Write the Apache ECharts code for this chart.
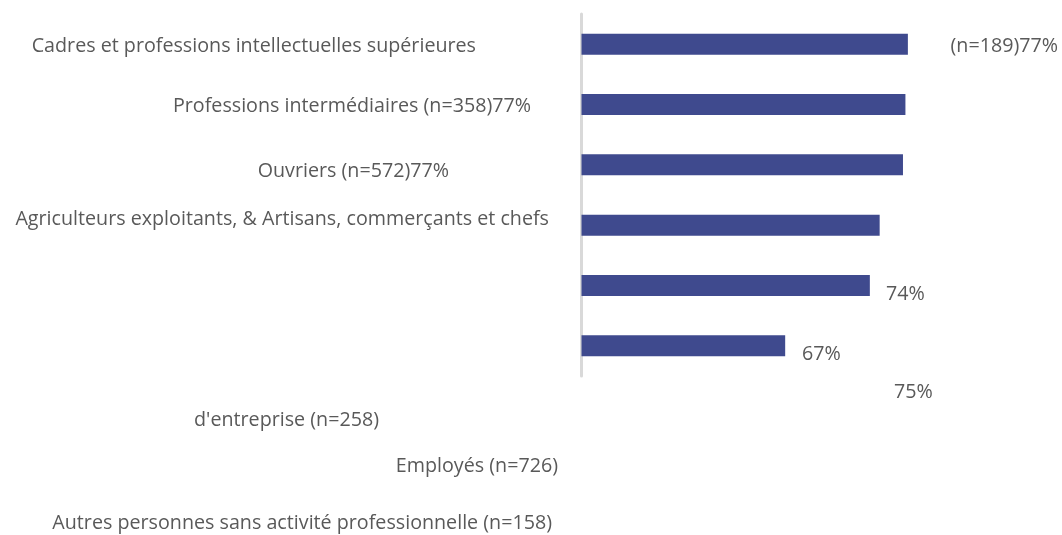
<!DOCTYPE html>
<html>
<head>
<meta charset="utf-8">
<script src="https://cdn.jsdelivr.net/npm/echarts@6/dist/echarts.min.js"></script>
<style>
html,body{margin:0;padding:0;background:#fff;}
#chart{width:1062px;height:535px;}
</style>
</head>
<body>
<div id="chart"></div>
<script>
// Data
const categories = [
  "Cadres et professions intellectuelles supérieures",
  "Professions intermédiaires",
  "Ouvriers",
  "Agriculteurs exploitants, & Artisans, commerçants et chefs d'entreprise",
  "Employés",
  "Autres personnes sans activité professionnelle"
];
const counts = [189, 358, 572, 258, 726, 158];
const values = [77.0, 76.8, 76.6, 74.7, 73.9, 67.0];
const valueLabels = ["77%", "77%", "77%", "75%", "74%", "67%"];

const FONT = '"Open Sans", sans-serif';
const FS = 19.7;
const TXT = '#595959';

const chart = echarts.init(document.getElementById('chart'));

function n(i){ return '(n=' + counts[i] + ')'; }
const agriParts = categories[3].split(' chefs ');

// Text pieces as they appear (misplaced labels of the original export)
const texts = [
  {t: categories[0], x: 476, y: 46, a: 'right'},
  {t: n(0) + valueLabels[0], x: 1058, y: 46, a: 'right'},
  {t: categories[1] + ' ' + n(1) + valueLabels[1], x: 531, y: 106, a: 'right'},
  {t: categories[2] + ' ' + n(2) + valueLabels[2], x: 449, y: 171, a: 'right'},
  {t: agriParts[0] + ' chefs', x: 549, y: 219, a: 'right'},
  {t: valueLabels[4], x: 886, y: 294, a: 'left'},
  {t: valueLabels[5], x: 802, y: 354, a: 'left'},
  {t: valueLabels[3], x: 894, y: 392, a: 'left'},
  {t: agriParts[1] + ' ' + n(3), x: 379, y: 420, a: 'right'},
  {t: categories[4] + ' ' + n(4), x: 558, y: 466, a: 'right'},
  {t: categories[5] + ' ' + n(5), x: 552, y: 523, a: 'right'}
];

chart.setOption({
  animation: false,
  grid: {left: 581.5, right: 112.4, top: 14, bottom: 159, containLabel: false},
  xAxis: {type: 'value', min: 50.4, max: 80.4, show: false},
  yAxis: {
    type: 'category', data: categories, inverse: true,
    axisLine: {show: true, lineStyle: {color: '#D9D9D9', width: 3}},
    axisTick: {show: false}, axisLabel: {show: false}
  },
  series: [{
    type: 'bar', data: values, barWidth: 21,
    itemStyle: {color: '#3F4A8E'},
    label: {show: false}
  }],
  graphic: texts.map(o => ({
    type: 'text', x: o.x, y: o.y, silent: true,
    style: {text: o.t, fill: TXT, fontSize: FS, fontFamily: FONT, align: o.a, verticalAlign: 'middle'}
  }))
});
</script>
</body>
</html>
